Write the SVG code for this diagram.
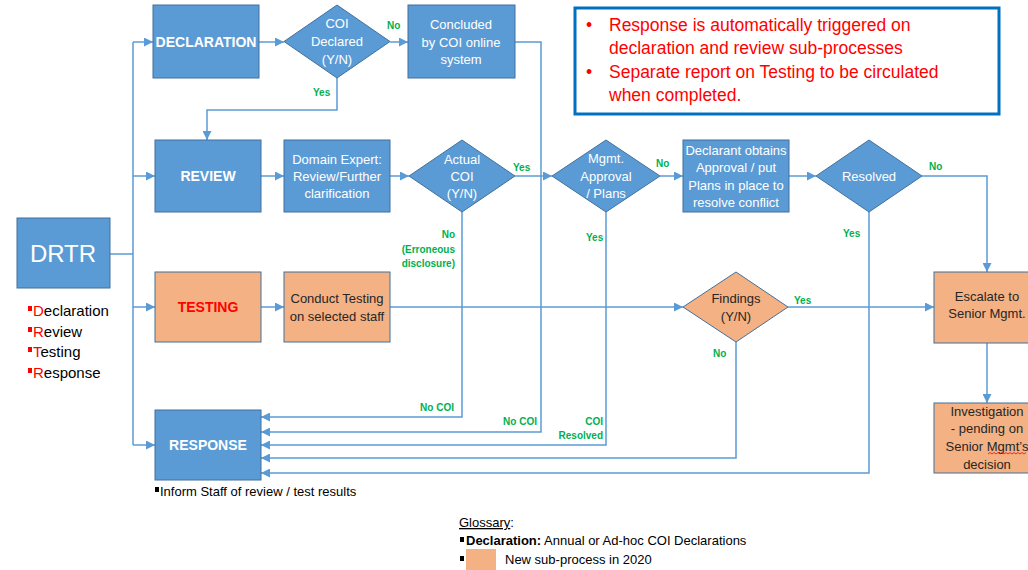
<svg xmlns="http://www.w3.org/2000/svg" width="1028" height="570" viewBox="0 0 1028 570">
  <style>
    text { font-family: "Liberation Sans", Arial, sans-serif; }
    .blue { fill: #5B9BD5; stroke: #41719C; stroke-width: 1; }
    .orange { fill: #F4B183; stroke: #41719C; stroke-width: 1; }
    .wt { fill: #FFFFFF; font-size: 13px; text-anchor: middle; }
    .dk { fill: #262626; font-size: 13px; text-anchor: middle; }
    .title { fill: #FFFFFF; font-size: 14px; font-weight: bold; text-anchor: middle; }
    .lbl { fill: #00B050; font-size: 10px; font-weight: bold; }
    .conn { fill: none; stroke: #5B9BD5; stroke-width: 1.5; }
    .arr { marker-end: url(#ah); }
    .note { fill: #FF0000; font-size: 17.5px; }
    .list { fill: #000000; font-size: 15px; }
    .red { fill: #FF0000; }
    .gl { fill: #000000; font-size: 13px; }
  </style>
  <defs>
    <marker id="ah" viewBox="0 0 10 10" refX="10" refY="5" markerWidth="9" markerHeight="9" markerUnits="userSpaceOnUse" orient="auto">
      <path d="M0,0 L10,5 L0,10 z" fill="#5B9BD5"/>
    </marker>
  </defs>
  <rect width="1028" height="570" fill="#FFFFFF"/>

  <!-- connectors -->
  <g id="connectors">
    <path class="conn" d="M110,254 H133 M133,42 V445"/>
    <path class="conn arr" d="M133,42 H153"/>
    <path class="conn arr" d="M133,176 H155"/>
    <path class="conn arr" d="M133,307 H155"/>
    <path class="conn arr" d="M133,445 H155"/>
    <path class="conn arr" d="M259,42 H284"/>
    <path class="conn arr" d="M390,42 H408"/>
    <path class="conn arr" d="M337,78 V110 H207 V140"/>
    <path class="conn arr" d="M515,42 H541 V432 H261"/>
    <path class="conn arr" d="M261,176 H284"/>
    <path class="conn arr" d="M390,176 H409"/>
    <path class="conn arr" d="M515,176 H552"/>
    <path class="conn arr" d="M660,176 H683"/>
    <path class="conn arr" d="M789,176 H816"/>
    <path class="conn arr" d="M922,176 H987 V272"/>
    <path class="conn arr" d="M462,212 V417 H261"/>
    <path class="conn arr" d="M606,212 V445 H261"/>
    <path class="conn arr" d="M869,212 V473 H261"/>
    <path class="conn arr" d="M261,307 H284"/>
    <path class="conn arr" d="M390,307 H683"/>
    <path class="conn arr" d="M788,307 H934"/>
    <path class="conn arr" d="M736,342 V458 H261"/>
    <path class="conn arr" d="M987,343 V403"/>
  </g>

  <!-- branch labels -->
  <g id="labels">
    <text class="lbl" x="387" y="29">No</text>
    <text class="lbl" x="313" y="96">Yes</text>
    <text class="lbl" x="513" y="171">Yes</text>
    <text class="lbl" x="656" y="167">No</text>
    <text class="lbl" x="929" y="170">No</text>
    <text class="lbl" x="586" y="241">Yes</text>
    <text class="lbl" x="843" y="237">Yes</text>
    <text class="lbl" x="455" y="238" text-anchor="end">No</text>
    <text class="lbl" x="455" y="253" text-anchor="end">(Erroneous</text>
    <text class="lbl" x="455" y="267" text-anchor="end">disclosure)</text>
    <text class="lbl" x="454" y="411" text-anchor="end">No COI</text>
    <text class="lbl" x="537" y="425" text-anchor="end">No COI</text>
    <text class="lbl" x="603" y="425" text-anchor="end">COI</text>
    <text class="lbl" x="603" y="439" text-anchor="end">Resolved</text>
    <text class="lbl" x="794" y="304">Yes</text>
    <text class="lbl" x="713" y="357">No</text>
  </g>

  <!-- DRTR -->
  <g id="drtr">
    <rect class="blue" x="17" y="218" width="93" height="70"/>
    <text x="63" y="262" fill="#FFFFFF" font-size="24" text-anchor="middle">DRTR</text>
    <rect class="red" x="28" y="306" width="4" height="5"/>
    <text class="list" x="33" y="316"><tspan class="red">D</tspan>eclaration</text>
    <rect class="red" x="28" y="327" width="4" height="5"/>
    <text class="list" x="33" y="337"><tspan class="red">R</tspan>eview</text>
    <rect class="red" x="28" y="347" width="4" height="5"/>
    <text class="list" x="33" y="357"><tspan class="red">T</tspan>esting</text>
    <rect class="red" x="28" y="368" width="4" height="5"/>
    <text class="list" x="33" y="378"><tspan class="red">R</tspan>esponse</text>
  </g>

  <!-- Declaration row -->
  <g id="declaration">
    <rect class="blue" x="153" y="5" width="106" height="73"/>
    <text class="title" x="206" y="47">DECLARATION</text>
  </g>
  <g id="coi-declared">
    <polygon class="blue" points="337,5 390,41.5 337,78 284,41.5"/>
    <text class="wt" x="337" y="27.5">COI</text>
    <text class="wt" x="337" y="45.5">Declared</text>
    <text class="wt" x="337" y="64">(Y/N)</text>
  </g>
  <g id="concluded">
    <rect class="blue" x="408" y="5" width="107" height="73"/>
    <text class="wt" x="461" y="28.5">Concluded</text>
    <text class="wt" x="461" y="46.5">by COI online</text>
    <text class="wt" x="461" y="64">system</text>
  </g>

  <!-- Notes -->
  <g id="notes">
    <rect x="575" y="8" width="424" height="106" fill="#FFFFFF" stroke="#0070C0" stroke-width="3"/>
    <text class="note" x="586" y="31">•</text>
    <text class="note" x="609" y="31">Response is automatically triggered on</text>
    <text class="note" x="609" y="54">declaration and review sub-processes</text>
    <text class="note" x="586" y="78">•</text>
    <text class="note" x="609" y="78">Separate report on Testing to be circulated</text>
    <text class="note" x="609" y="101">when completed.</text>
  </g>

  <!-- Review row -->
  <g id="review">
    <rect class="blue" x="155" y="140" width="106" height="72"/>
    <text class="title" x="208" y="181">REVIEW</text>
  </g>
  <g id="domain-expert">
    <rect class="blue" x="284" y="140" width="106" height="72"/>
    <text class="wt" x="337" y="163.5">Domain Expert:</text>
    <text class="wt" x="337" y="180.5">Review/Further</text>
    <text class="wt" x="337" y="197.5">clarification</text>
  </g>
  <g id="actual-coi">
    <polygon class="blue" points="462,140 515,176 462,212 409,176"/>
    <text class="wt" x="462" y="163.5">Actual</text>
    <text class="wt" x="462" y="180.5">COI</text>
    <text class="wt" x="462" y="197.5">(Y/N)</text>
  </g>
  <g id="mgmt-approval">
    <polygon class="blue" points="606,140 660,176 606,212 552,176"/>
    <text class="wt" x="606" y="162.5">Mgmt.</text>
    <text class="wt" x="606" y="180.5">Approval</text>
    <text class="wt" x="606" y="197.5">/ Plans</text>
  </g>
  <g id="declarant">
    <rect class="blue" x="683" y="140" width="106" height="72"/>
    <text class="wt" x="736" y="154.5">Declarant obtains</text>
    <text class="wt" x="736" y="171.5">Approval / put</text>
    <text class="wt" x="736" y="189.5">Plans in place to</text>
    <text class="wt" x="736" y="206.5">resolve conflict</text>
  </g>
  <g id="resolved">
    <polygon class="blue" points="869,140 922,176 869,212 816,176"/>
    <text class="wt" x="869" y="180.5" font-size="12">Resolved</text>
  </g>

  <!-- Testing row -->
  <g id="testing">
    <rect class="orange" x="155" y="272" width="106" height="70"/>
    <text class="title" x="208" y="312" fill="#FF0000" style="fill:#FF0000">TESTING</text>
  </g>
  <g id="conduct-testing">
    <rect class="orange" x="284" y="272" width="106" height="70"/>
    <text class="dk" x="337" y="302.5">Conduct Testing</text>
    <text class="dk" x="337" y="320.5">on selected staff</text>
  </g>
  <g id="findings">
    <polygon class="orange" points="736,272 788,307 736,342 683,307"/>
    <text class="dk" x="736" y="302.5">Findings</text>
    <text class="dk" x="736" y="320.5">(Y/N)</text>
  </g>
  <g id="escalate">
    <rect class="orange" x="934" y="272" width="106" height="71"/>
    <text class="dk" x="987" y="300.5">Escalate to</text>
    <text class="dk" x="987" y="317.5">Senior Mgmt.</text>
  </g>
  <g id="investigation">
    <rect class="orange" x="934" y="403" width="106" height="70"/>
    <text class="dk" x="987" y="415.5">Investigation</text>
    <text class="dk" x="987" y="432.5">- pending on</text>
    <text class="dk" x="987" y="450.5">Senior Mgmt’s</text>
    <text class="dk" x="987" y="468.5">decision</text>
    <path d="M988,454 l2,-1.5 l2,1.5 l2,-1.5 l2,1.5 l2,-1.5 l2,1.5 l2,-1.5 l2,1.5 l2,-1.5 l2,1.5 l2,-1.5 l2,1.5 l2,-1.5 l2,1.5 l2,-1.5 l2,1.5 l2,-1.5 l2,1.5 l2,-1.5" fill="none" stroke="#FF0000" stroke-width="0.8"/>
  </g>

  <!-- Response -->
  <g id="response">
    <rect class="blue" x="155" y="410" width="106" height="70"/>
    <text class="title" x="208" y="450">RESPONSE</text>
    <rect x="155" y="487" width="4" height="5" fill="#000000"/>
    <text class="gl" x="160" y="496" font-size="13.5">Inform Staff of review / test results</text>
  </g>

  <!-- Glossary -->
  <g id="glossary">
    <text class="gl" x="459" y="527"><tspan text-decoration="underline">Glossary</tspan>:</text>
    <rect x="460" y="537" width="4" height="5" fill="#000000"/>
    <text class="gl" x="466" y="545"><tspan font-weight="bold">Declaration:</tspan> Annual or Ad-hoc COI Declarations</text>
    <rect x="460" y="556" width="4" height="5" fill="#000000"/>
    <rect x="466" y="549" width="30" height="21" fill="#F4B183"/>
    <text class="gl" x="505" y="564">New sub-process in 2020</text>
  </g>
</svg>
